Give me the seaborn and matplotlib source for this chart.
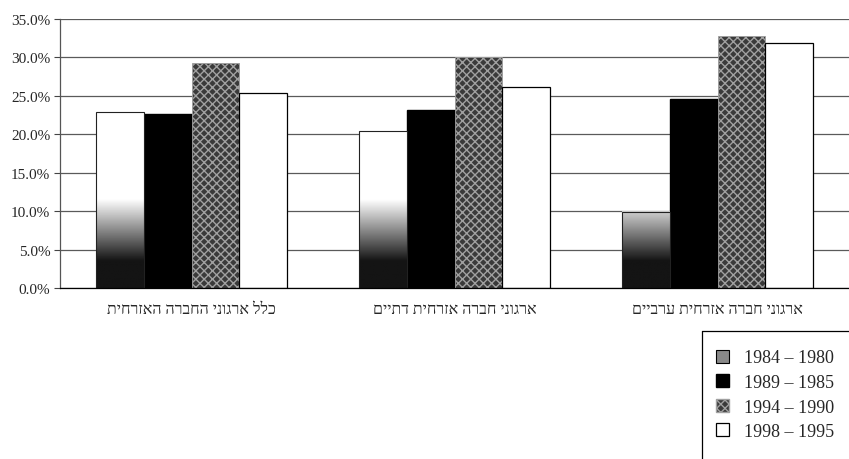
import numpy as np
import pandas as pd
import matplotlib
matplotlib.use('Agg')
import matplotlib.pyplot as plt
from matplotlib.patches import Patch
from matplotlib.lines import Line2D
from matplotlib.ticker import FuncFormatter
import seaborn as sns

sns.set_theme(style='white')
plt.rcParams['font.family'] = ['Liberation Serif', 'DejaVu Sans']

# נתונים (סדר לוגי של הטקסט העברי)
groups = ['כלל ארגוני החברה האזרחית',
          'ארגוני חברה אזרחית דתיים',
          'ארגוני חברה אזרחית ערביים']
periods = ['1984 – 1980', '1989 – 1985', '1994 – 1990', '1998 – 1995']
v_1980 = [22.9, 20.4, 9.9]
v_1985 = [22.6, 23.1, 24.6]
v_1990 = [29.3, 30.0, 32.8]
v_1995 = [25.4, 26.1, 31.9]

def rtl(s):
    # matplotlib לא מבצע bidi - הופכים את סדר התווים לתצוגה
    return s[::-1]

labels = [rtl(g) for g in groups]
df = pd.DataFrame({
    'group': labels * 4,
    'period': [p for p in periods for _ in labels],
    'value': v_1980 + v_1985 + v_1990 + v_1995,
})

fig = plt.figure(figsize=(8.49, 4.6), dpi=100)
ax = fig.add_axes([60 / 849, 1 - 289 / 460, 1 - 60 / 849, 269 / 460])

sns.barplot(data=df, x='group', y='value', hue='period', order=labels,
            hue_order=periods, width=0.73, legend=False, ax=ax,
            palette=['white', 'black', '#3c3c3c', 'white'])

# סגנון העמודות לפי סדרה
for bar in ax.containers[0]:
    bar.set_facecolor('none')
    bar.set_edgecolor('#222222')
    bar.set_linewidth(0.8)
    bar.set_zorder(2)
for bar in ax.containers[1]:
    bar.set_facecolor('black')
    bar.set_edgecolor('black')
for bar in ax.containers[2]:
    bar.set_facecolor('#3a3a3a')
    bar.set_edgecolor('#a0a0a0')
    bar.set_hatch('xxxx')
    bar.set_linewidth(0.6)
for bar in ax.containers[3]:
    bar.set_facecolor('white')
    bar.set_edgecolor('black')
    bar.set_linewidth(0.9)

# מעבר גוון כהה בתחתית הסדרה הראשונה
for bar in ax.containers[0]:
    x0, w, h = bar.get_x(), bar.get_width(), bar.get_height()
    yy = np.linspace(0, h, 300)
    shade = 0.08 + 0.92 * np.clip((yy - 3.5) / 8.0, 0, 1)
    grad = shade[:, None] * np.ones((1, 10))
    ax.imshow(grad, extent=[x0, x0 + w, 0, h], origin='lower',
              cmap='gray', vmin=0, vmax=1, aspect='auto', zorder=1.5)

ax.set_xlim(-0.5, 2.5)
ax.set_ylim(0, 35)
ax.set_yticks(np.arange(0, 36, 5))
ax.yaxis.set_major_formatter(FuncFormatter(lambda v, _: f'{v:.1f}%'))
ax.yaxis.grid(True, color='#5a5a5a', linewidth=0.9)
ax.set_axisbelow(True)
ax.tick_params(axis='y', left=True, length=4, width=0.8, color='#444444',
               labelsize=11, pad=3)
ax.tick_params(axis='x', bottom=False, labelsize=11.5, pad=3)
ax.set_xlabel('')
ax.set_ylabel('')
for s in ['top', 'right']:
    ax.spines[s].set_visible(False)
ax.spines['left'].set_color('#555555')
ax.spines['left'].set_linewidth(0.9)
ax.spines['bottom'].set_color('black')
ax.spines['bottom'].set_linewidth(0.9)

handles = [
    Patch(facecolor='#888888', edgecolor='black', linewidth=0.8),
    Patch(facecolor='black', edgecolor='black'),
    Patch(facecolor='#3a3a3a', edgecolor='#a0a0a0', hatch='xxxx'),
    Patch(facecolor='white', edgecolor='black', linewidth=0.9),
]
fig.legend(handles, periods, loc='upper left',
           bbox_to_anchor=(702 / 849, 1 - 336 / 460),
           frameon=False, fontsize=13, handlelength=0.72, handleheight=0.72,
           handletextpad=0.78, labelspacing=0.42,
           borderpad=0.8, borderaxespad=0)

# מסגרת המקרא - נחתכת בשולי התמונה (רק צד עליון ושמאלי)
fx0, fy0 = 702 / 849, 1 - 332 / 460
fig.add_artist(Line2D([fx0, 1.0], [fy0, fy0], color='black', lw=0.9))
fig.add_artist(Line2D([fx0, fx0], [fy0, 0.0], color='black', lw=0.9))

plt.savefig('out.png', dpi=100)
